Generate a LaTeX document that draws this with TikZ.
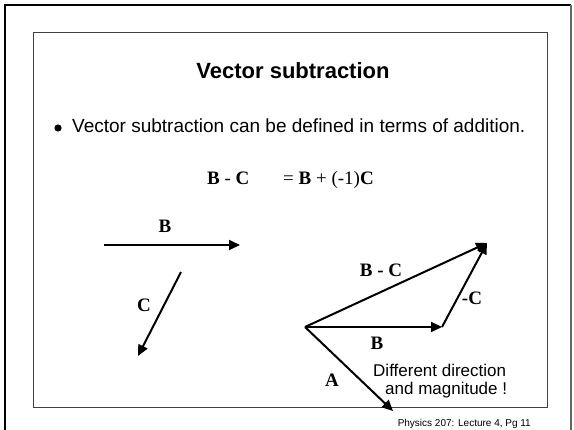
\documentclass[tikz,border=0pt]{standalone}
\usepackage{fontspec}
\setmainfont{Liberation Serif}
\newfontfamily\arialfont{Liberation Sans}
\usetikzlibrary{arrows.meta}
\begin{document}
\begin{tikzpicture}[x=1pt,y=-1pt,
  vec/.style={line width=2pt,-{Triangle[length=11pt,width=10pt]}},
  lbl/.style={anchor=base,inner sep=0pt,font=\fontsize{19}{22}\selectfont\bfseries},
  sans/.style={inner sep=0pt,font=\arialfont\fontsize{#1}{#1}\selectfont},
  frame/.style={line width=2pt,black},
  innerbox/.style={line width=1pt,black!75}]
\useasboundingbox (0,0) rectangle (574,430);
% outer frame
\draw[frame] (5,430) -- (5,5) -- (571,5);
\draw[line width=1.2pt,black!60] (571,5) -- (571,430);
% inner box
\draw[innerbox] (33,33) rectangle (547,408);
% title and bullet
\node[anchor=base,inner sep=0pt,font=\arialfont\fontsize{22}{22}\selectfont\bfseries] (title) at (293,79) {Vector subtraction};
\fill (58,128) circle (3.6pt);
\node[sans=19,anchor=base west] (bullet) at (72,133) {Vector subtraction can be defined in terms of addition.};
% equation
\node[anchor=base west,inner sep=0pt,font=\fontsize{19}{22}\selectfont] (eqL) at (207,185) {\textbf{B} - \textbf{C}};
\node[anchor=base west,inner sep=0pt,font=\fontsize{19}{22}\selectfont] (eqR) at (283,185) {= \textbf{B} + (-1)\textbf{C}};
% left vectors
\coordinate (LB1) at (104,245);
\coordinate (LB2) at (240,245);
\coordinate (LC1) at (181,272);
\coordinate (LC2) at (138,356);
\draw[vec] (LB1) -- (LB2);
\draw[vec] (LC1) -- (LC2);
\node[lbl] (lblB1) at (165,233) {B};
\node[lbl] (lblC1) at (144,312) {C};
% right figure
\coordinate (O) at (305,327);
\coordinate (Bt) at (442,327);
\coordinate (T) at (487,243);
\coordinate (At) at (393,411);
\draw[vec] (O) -- (Bt);
\draw[vec] (Bt) -- (T);
\draw[vec] (O) -- (T);
\draw[vec] (O) -- (At);
\node[lbl] (lblBC) at (381,277) {B - C};
\node[lbl] (lblmC) at (472,305) {-C};
\node[lbl] (lblB2) at (377,350) {B};
\node[lbl] (lblA) at (332,387) {A};
\node[sans=17,anchor=base west] (note1) at (373,377) {Different direction};
\node[sans=17,anchor=base west] (note2) at (385,395) {and magnitude !};
% footer
\node[sans=10,anchor=base east] (foot) at (531,427) {Physics 207: Lecture 4, Pg 11};
\end{tikzpicture}
\end{document}
